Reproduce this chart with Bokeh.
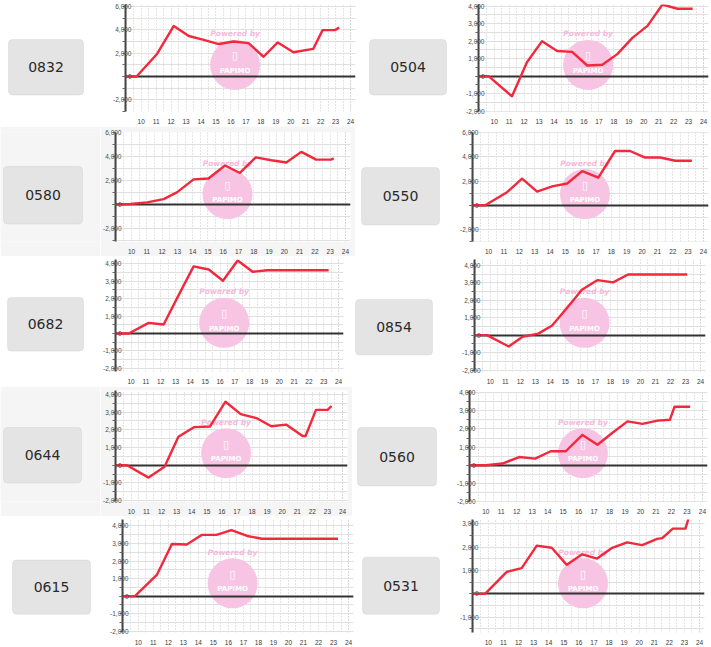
import math
from bokeh.plotting import figure
from bokeh.layouts import row, column
from bokeh.models import Range1d, FixedTicker, NumeralTickFormatter, BoxAnnotation, Label
from bokeh.core.properties import value
from bokeh.embed import file_html
from bokeh.resources import INLINE

# ---------------- data ----------------
CODES = ["0832", "0504", "0580", "0550", "0682", "0854", "0644", "0560", "0615", "0531"]

HOURS_0832 = [8.9, 9.69, 11.07, 12.18, 13.18, 14.18, 15.18, 16.18, 17.18, 18.18, 19.13, 20.18, 21.5, 22.13, 22.96, 23.24]
VALUES_0832 = [0, 0, 1950, 4330, 3470, 3140, 2780, 3000, 2860, 1690, 2920, 2080, 2360, 3970, 3970, 4190]

HOURS_0504 = [8.9, 9.62, 11.19, 12.19, 13.2, 14.21, 15.21, 16.22, 17.23, 18.23, 19.24, 20.25, 21.25, 22.26, 23.27]
VALUES_0504 = [0, 0, -1150, 800, 2000, 1440, 1390, 610, 650, 1260, 2190, 2870, 4090, 3850, 3850]

HOURS_0580 = [8.9, 9.93, 11.02, 12.1, 12.97, 14.06, 15.03, 16.12, 17.09, 18.13, 19.15, 20.13, 21.11, 22.08, 23.06, 23.23]
VALUES_0580 = [0, 30, 160, 430, 1000, 2080, 2160, 3240, 2620, 3920, 3680, 3490, 4380, 3730, 3730, 3840]

HOURS_0550 = [8.9, 9.78, 11.2, 12.18, 13.16, 14.14, 15.12, 16.1, 17.15, 18.24, 19.22, 20.2, 21.18, 22.16, 23.25]
VALUES_0550 = [0, 0, 1080, 2200, 1130, 1560, 1800, 2820, 2290, 4490, 4490, 3950, 3950, 3680, 3680]

HOURS_0682 = [8.9, 9.84, 11.19, 12.2, 13.2, 14.22, 15.24, 16.2, 17.19, 18.2, 19.21, 20.2, 21.2, 22.2, 23.33]
VALUES_0682 = [0, 0, 610, 520, 2190, 3850, 3670, 3030, 4190, 3540, 3630, 3630, 3630, 3630, 3630]

HOURS_0854 = [8.9, 9.78, 11.23, 12.15, 13.2, 14.12, 15.15, 16.1, 17.15, 18.18, 19.17, 20.2, 21.2, 22.2, 23.11]
VALUES_0854 = [0, 0, -650, -90, 90, 560, 1600, 2600, 3160, 3030, 3480, 3480, 3480, 3480, 3480]

HOURS_0644 = [8.9, 9.71, 11.14, 12.2, 13.12, 14.18, 15.21, 16.24, 17.25, 18.29, 19.27, 20.26, 21.35, 21.55, 22.24, 23.01, 23.27]
VALUES_0644 = [0, 0, -700, -90, 1600, 2150, 2180, 3580, 2880, 2660, 2200, 2290, 1650, 1650, 3120, 3120, 3340]

HOURS_0560 = [8.9, 10.0, 11.08, 12.16, 13.19, 14.2, 15.17, 16.25, 17.22, 18.19, 19.16, 20.13, 21.1, 21.9, 22.2, 23.21]
VALUES_0560 = [0, 0, 90, 450, 360, 770, 770, 1670, 1130, 1790, 2420, 2280, 2460, 2510, 3230, 3230]

HOURS_0615 = [8.9, 9.78, 11.25, 12.24, 13.23, 14.22, 15.21, 16.2, 17.25, 18.24, 19.2, 20.2, 21.2, 22.2, 23.3]
VALUES_0615 = [0, 0, 1230, 2970, 2940, 3490, 3490, 3760, 3430, 3270, 3270, 3270, 3270, 3270, 3270]

HOURS_0531 = [8.9, 9.78, 11.22, 12.21, 13.21, 14.2, 15.2, 16.22, 17.21, 18.21, 19.2, 20.2, 21.19, 21.53, 22.23, 23.07, 23.3]
VALUES_0531 = [0, 0, 940, 1100, 2060, 1970, 1240, 1690, 1510, 1970, 2200, 2080, 2350, 2380, 2790, 2790, 3290]

# axis limits and label step of each chart
Y_LIMITS = {
    "0832": (-3000, 6167), "0504": (-2017, 4094),
    "0580": (-3106, 6000), "0550": (-3008, 6024),
    "0682": (-2179, 4246), "0854": (-2084, 4341),
    "0644": (-2049, 4214), "0560": (-2005, 4124),
    "0615": (-2077, 4369), "0531": (-1651, 3178),
}
Y_LABEL_STEP = {
    "0832": 2000, "0504": 1000, "0580": 2000, "0550": 2000, "0682": 1000,
    "0854": 1000, "0644": 1000, "0560": 1000, "0615": 1000, "0531": 1000,
}
X_RANGE = (8.95, 24.33)
X_TICKS = [10, 11, 12, 13, 14, 15, 16, 17, 18, 19, 20, 21, 22, 23, 24]
X_MINOR = [9, 9.5, 10.5, 11.5, 12.5, 13.5, 14.5, 15.5, 16.5, 17.5, 18.5, 19.5, 20.5,
           21.5, 22.5, 23.5, 24]

SERIES = {
    "0832": (HOURS_0832, VALUES_0832), "0504": (HOURS_0504, VALUES_0504),
    "0580": (HOURS_0580, VALUES_0580), "0550": (HOURS_0550, VALUES_0550),
    "0682": (HOURS_0682, VALUES_0682), "0854": (HOURS_0854, VALUES_0854),
    "0644": (HOURS_0644, VALUES_0644), "0560": (HOURS_0560, VALUES_0560),
    "0615": (HOURS_0615, VALUES_0615), "0531": (HOURS_0531, VALUES_0531),
}

# ---------------- layout (pixels) ----------------
# per row: height, shared top/bottom border, then for left and right panel:
# (label width, label box l,t,r,b, chart width, chart left/right border, bg)
ROWS = [
    (126, 4, 12, [(100, (8, 40, 83, 97), 260, (25, 5), "#ffffff"),
                  (95, (9, 40, 86, 97), 256, (23, 3), "#ffffff")]),
    (130, 6, 12, [(100, (3, 41, 82, 100), 255, (15, 5), "#f5f5f5"),
                  (95, (6, 42, 84, 101), 261, (22, 3), "#ffffff")]),
    (130, 3, 12, [(100, (7, 42, 83, 97), 250, (15, 7), "#ffffff"),
                  (90, (5, 44, 82, 101), 271, (34, 6), "#ffffff")]),
    (130, 4, 12, [(100, (3, 42, 81, 99), 252, (13, 5), "#f5f5f5"),
                  (93, (5, 42, 84, 102), 266, (24, 4), "#ffffff")]),
    (131, 3, 11, [(105, (12, 45, 90, 101), 253, (17, 5), "#ffffff"),
                  (92, (4, 42, 81, 101), 261, (22, 7), "#ffffff")]),
]

WM_HOUR = 16.28
WM_FRAC = 0.435
TICK_FONT = "Liberation Sans"


def make_label(code, w, h, top, bottom, box, bg):
    # data y = h - pixel row inside the panel
    p = figure(width=w, height=h, x_range=Range1d(0, w), y_range=Range1d(bottom, h - top),
               output_backend="svg", toolbar_location=None, x_axis_type=None,
               y_axis_type=None, min_border=0, min_border_left=0, min_border_right=0,
               min_border_top=top, min_border_bottom=bottom, outline_line_color=None,
               background_fill_color=bg, border_fill_color=bg)
    l, t, r, b = box
    p.add_layout(BoxAnnotation(left=l, right=r, top=h - t, bottom=h - b,
                               fill_color="#e4e4e4", fill_alpha=1, line_color="#c4c4c4",
                               line_width=1, border_radius=4))
    p.add_layout(Label(x=(l + r) / 2, y=h - (t + b) / 2, text=code, text_align="center",
                       text_baseline="middle", text_font="DejaVu Sans",
                       text_font_size="14px", text_color="#2a2a2a"))
    return p


def make_chart(code, w, h, top, bottom, lr, bg):
    hours, vals = SERIES[code]
    ymin, ymax = Y_LIMITS[code]
    step = Y_LABEL_STEP[code]
    mbl, mbr = lr
    p = figure(width=w, height=h, x_range=Range1d(*X_RANGE), y_range=Range1d(ymin, ymax),
               output_backend="svg", toolbar_location=None,
               min_border_left=mbl, min_border_right=mbr, min_border_top=top,
               min_border_bottom=bottom, outline_line_color=None,
               background_fill_color="#ffffff", border_fill_color=bg)
    half = step // 2
    yticks = list(range(int(math.ceil(ymin / step)) * step, int(ymax) + 1, step))
    yminor = list(range(int(math.ceil(ymin / half)) * half, int(ymax) + 1, half))

    xa = p.xaxis[0]
    xa.ticker = FixedTicker(ticks=X_TICKS, minor_ticks=X_MINOR)
    xa.axis_line_color = None
    xa.major_tick_line_color = None
    xa.minor_tick_line_color = None
    xa.major_label_standoff = 1
    xa.major_label_text_font = TICK_FONT
    xa.major_label_text_font_size = "6.5px"
    xa.major_label_text_color = "#3a3a3a"

    ya = p.yaxis[0]
    ya.ticker = FixedTicker(ticks=yticks, minor_ticks=yminor)
    ya.formatter = NumeralTickFormatter(format="0,0")
    ya.axis_line_color = "#444444"
    ya.axis_line_width = 2
    ya.major_tick_out = 3
    ya.major_tick_in = 0
    ya.minor_tick_out = 3
    ya.minor_tick_in = 0
    ya.major_tick_line_color = "#666666"
    ya.minor_tick_line_color = "#666666"
    ya.major_label_standoff = -9
    ya.major_label_text_font = TICK_FONT
    ya.major_label_text_font_size = "6.5px"
    ya.major_label_text_color = "#4a4a4a"

    p.ygrid.grid_line_color = "#e0e0e0"
    p.ygrid.minor_grid_line_color = "#e0e0e0"
    p.xgrid.grid_line_color = "#c8c8c8"
    p.xgrid.grid_line_dash = "1 2"
    p.xgrid.minor_grid_line_color = "#c8c8c8"
    p.xgrid.minor_grid_line_dash = "1 2"

    wy = ymin + WM_FRAC * (ymax - ymin)
    p.scatter([WM_HOUR], [wy], size=50, marker="circle", fill_color="#f8c4e3",
              line_color=None)
    p.text([WM_HOUR], [wy], text=["Powered by"], y_offset=-31, text_align="center",
           text_baseline="middle", text_font=value("DejaVu Sans"),
           text_font_size="7.5px", text_font_style="bold italic", text_color="#f6b9db")
    p.text([WM_HOUR], [wy], text=["\u25af"], y_offset=-9, text_align="center",
           text_baseline="middle", text_font=value("DejaVu Sans"),
           text_font_size="11px", text_color="#ffffff")
    p.text([WM_HOUR], [wy], text=["PAPIMO"], y_offset=6, text_align="center",
           text_baseline="middle", text_font=value("DejaVu Sans"),
           text_font_size="7px", text_font_style="bold", text_color="#ffffff")
    p.hspan(y=[0], line_color="#333333", line_width=2)
    p.line(hours, vals, line_color="#f2283c", line_width=2.4, line_join="round")
    return p


rows = []
k = 0
for h, top, bottom, sides in ROWS:
    kids = []
    for (lw, box, cw, lr, bg) in sides:
        code = CODES[k]
        kids.append(make_label(code, lw, h, top, bottom, box, bg))
        kids.append(make_chart(code, cw, h, top, bottom, lr, bg))
        k += 1
    rows.append(row(*kids, spacing=0))

layout = column(*rows, spacing=0)

open("out.html", "w").write(file_html(layout, INLINE))
